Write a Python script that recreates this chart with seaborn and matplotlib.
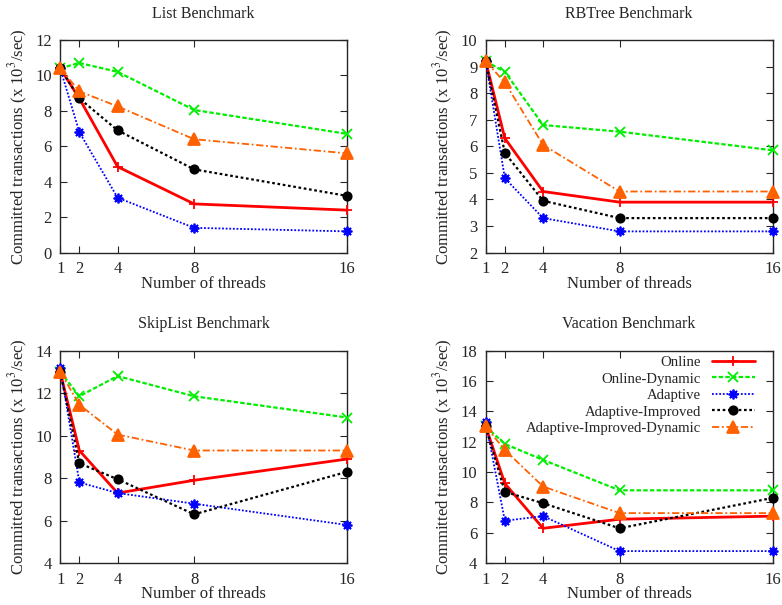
import numpy as np
import pandas as pd
import matplotlib
matplotlib.use("Agg")
import matplotlib.pyplot as plt
import seaborn as sns

# dados
threads = [1, 2, 4, 8, 16]
series = ["Online", "Online-Dynamic", "Adaptive", "Adaptive-Improved", "Adaptive-Improved-Dynamic"]

list_online = [10.4, 8.7, 4.85, 2.75, 2.4]
list_online_dyn = [10.4, 10.7, 10.2, 8.05, 6.7]
list_adaptive = [10.4, 6.8, 3.1, 1.4, 1.2]
list_adapt_imp = [10.4, 8.7, 6.9, 4.7, 3.2]
list_adapt_imp_dyn = [10.4, 9.1, 8.25, 6.4, 5.6]

rb_online = [9.2, 6.3, 4.3, 3.9, 3.9]
rb_online_dyn = [9.2, 8.8, 6.8, 6.55, 5.85]
rb_adaptive = [9.2, 4.8, 3.3, 2.8, 2.8]
rb_adapt_imp = [9.2, 5.75, 3.95, 3.3, 3.3]
rb_adapt_imp_dyn = [9.2, 8.4, 6.05, 4.3, 4.3]

skip_online = [13.0, 9.3, 7.3, 7.9, 8.9]
skip_online_dyn = [13.0, 11.85, 12.8, 11.85, 10.85]
skip_adaptive = [13.2, 7.8, 7.3, 6.8, 5.8]
skip_adapt_imp = [13.0, 8.7, 7.95, 6.3, 8.3]
skip_adapt_imp_dyn = [13.0, 11.45, 10.05, 9.3, 9.3]

vac_online = [13.0, 9.25, 6.3, 6.9, 7.1]
vac_online_dyn = [13.0, 11.85, 10.8, 8.8, 8.8]
vac_adaptive = [13.3, 6.8, 7.1, 4.8, 4.8]
vac_adapt_imp = [13.0, 8.7, 7.95, 6.3, 8.3]
vac_adapt_imp_dyn = [13.0, 11.45, 9.05, 7.3, 7.3]

benchmarks = [
    ("List Benchmark", [list_online, list_online_dyn, list_adaptive, list_adapt_imp, list_adapt_imp_dyn], (0, 12), [0, 2, 4, 6, 8, 10, 12]),
    ("RBTree Benchmark", [rb_online, rb_online_dyn, rb_adaptive, rb_adapt_imp, rb_adapt_imp_dyn], (2, 10), [2, 3, 4, 5, 6, 7, 8, 9, 10]),
    ("SkipList Benchmark", [skip_online, skip_online_dyn, skip_adaptive, skip_adapt_imp, skip_adapt_imp_dyn], (4, 14), [4, 6, 8, 10, 12, 14]),
    ("Vacation Benchmark", [vac_online, vac_online_dyn, vac_adaptive, vac_adapt_imp, vac_adapt_imp_dyn], (4, 18), [4, 6, 8, 10, 12, 14, 16, 18]),
]

# estilos de cada serie
cores = ["#ff0000", "#00ee00", "#0000ff", "#000000", "#ff6000"]
marcadores = ["+", "x", (8, 2, 0), "o", "^"]
tracos = [(None, None), (2, 1), (1, 1), (1.2, 1.2), (4, 1.5, 1, 1.5)]
larguras = [2.0, 1.6, 1.3, 1.6, 1.3]
tam_marc = [7, 7, 7, 6, 8]

sns.set_style("ticks")
plt.rcParams["font.family"] = ["Liberation Serif", "DejaVu Serif"]
plt.rcParams["mathtext.fontset"] = "stix"

fig, axes = plt.subplots(2, 2, figsize=(7.82, 6.05), dpi=100)
plt.subplots_adjust(left=0.077, right=0.988, top=0.934, bottom=0.069, wspace=0.483, hspace=0.46)

for ax, (titulo, dados, ylim, yticks) in zip(axes.flat, benchmarks):
    for i, nome in enumerate(series):
        df = pd.DataFrame({"threads": threads, "valor": dados[i]})
        sns.lineplot(data=df, x="threads", y="valor", ax=ax, color=cores[i],
                     marker=marcadores[i], markersize=tam_marc[i], lw=larguras[i],
                     markeredgewidth=1.3, markeredgecolor=cores[i], label=nome,
                     legend=False, clip_on=False, zorder=3)
        ln = ax.lines[-1]
        if tracos[i][0] is not None:
            ln.set_dashes(tracos[i])
    ax.set_xlim(1, 16)
    ax.set_ylim(*ylim)
    ax.set_xticks(threads)
    ax.set_yticks(yticks)
    ax.tick_params(direction="in", top=True, right=True, labelsize=12, length=5, pad=6)
    ax.set_title(titulo, fontsize=11.5, pad=16)
    ax.set_xlabel("Number of threads", fontsize=12, labelpad=-1)
    ax.set_ylabel(r"Committed transactions (x 10$^3$/sec)", fontsize=12, labelpad=4)
    for s in ax.spines.values():
        s.set_linewidth(1.0)

# legenda no estilo gnuplot: texto alinhado a direita, amostra depois
leg = axes[1, 1].legend(loc="upper right", bbox_to_anchor=(0.955, 1.0), markerfirst=False,
                        frameon=False, fontsize=10.6, handlelength=2.9, labelspacing=0.22,
                        borderaxespad=0.1, borderpad=0.25, handletextpad=0.75)

plt.savefig("out.png", dpi=100)
